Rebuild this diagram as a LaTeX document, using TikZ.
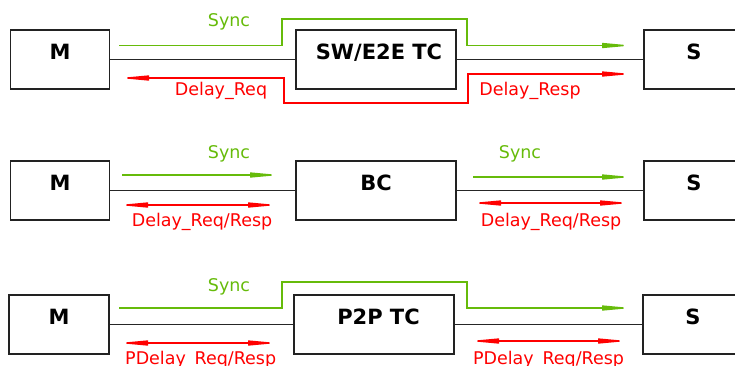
\documentclass[tikz,border=0pt]{standalone}
\usepackage{fontspec}
\setmainfont{DejaVu Sans}
\usetikzlibrary{arrows.meta}
\definecolor{syncgreen}{RGB}{102,187,10}
\definecolor{delayred}{RGB}{255,0,0}
\definecolor{boxline}{RGB}{34,34,34}
\begin{document}
\begin{tikzpicture}[x=1pt,y=-1pt,
  clockbox/.style={draw=boxline, line width=1.5pt, minimum height=59pt, inner sep=0pt,
    text height=15pt, text depth=15pt, font=\fontsize{21}{24}\selectfont\bfseries},
  wire/.style={draw=black!85, line width=1.5pt},
  syncmsg/.style={draw=syncgreen, line width=1.4pt, -{Triangle[length=30pt,width=5pt]}},
  delaymsg/.style={draw=delayred, line width=1.4pt, {Triangle[length=30pt,width=5pt]}-{Triangle[length=30pt,width=5pt]}},
  synclbl/.style={anchor=base, text=syncgreen, inner sep=0pt, font=\fontsize{17.5}{20}\selectfont},
  delaylbl/.style={anchor=base, text=delayred, inner sep=0pt, font=\fontsize{17.5}{20}\selectfont}]
\useasboundingbox (0,0) rectangle (735,365);

% Row 1: end-to-end transparent clock
\node[clockbox, minimum width=99pt]  (m1)  at (60,59.5)  {M};
\node[clockbox, minimum width=160pt] (tc1) at (376,59.5) {\hspace*{6pt}SW/E2E TC};
\node[clockbox, minimum width=100pt] (s1)  at (694,59.5) {S};
\draw[wire] (m1) -- (tc1);
\draw[wire] (tc1) -- (s1);
\coordinate (g1s) at (119,45.5);
\coordinate (g1e) at (632,45.5);
\draw[syncmsg] (g1s) -- (282,45.5) -- (282,19) -- (467,19) -- (467,45.5) -- (g1e);
\coordinate (r1s) at (119,78);
\coordinate (r1e) at (632,74);
\draw[delaymsg] (r1s) -- (284,78) -- (284,103) -- (468,103) -- (468,74) -- (r1e);
\node[synclbl]  (l1a) at (229,26.7) {Sync};
\node[delaylbl] (l1b) at (221,95) {Delay\_Req};
\node[delaylbl] (l1c) at (530,95) {Delay\_Resp};

% Row 2: boundary clock
\node[clockbox, minimum width=99pt]  (m2) at (60,190.5)  {M};
\node[clockbox, minimum width=160pt] (bc) at (376,190.5) {BC};
\node[clockbox, minimum width=100pt] (s2) at (694,190.5) {S};
\draw[wire] (m2) -- (bc);
\draw[wire] (bc) -- (s2);
\coordinate (g2as) at (122,175);
\coordinate (g2ae) at (280,175);
\coordinate (g2bs) at (473,177);
\coordinate (g2be) at (632,177);
\draw[syncmsg] (g2as) -- (g2ae);
\draw[syncmsg] (g2bs) -- (g2be);
\coordinate (r2as) at (118,205);
\coordinate (r2ae) at (278,205);
\coordinate (r2bs) at (471,203);
\coordinate (r2be) at (630,203);
\draw[delaymsg] (r2as) -- (r2ae);
\draw[delaymsg] (r2bs) -- (r2be);
\node[synclbl]  (l2a) at (229,158.3) {Sync};
\node[synclbl]  (l2b) at (520,158.3) {Sync};
\node[delaylbl] (l2c) at (202,226) {Delay\_Req/Resp};
\node[delaylbl] (l2d) at (551,226) {Delay\_Req/Resp};

% Row 3: peer-to-peer transparent clock
\node[clockbox, minimum width=100pt] (m3)  at (59,324.5)  {M};
\node[clockbox, minimum width=160pt] (p2p) at (374,324.5) {\hspace*{9pt}P2P TC};
\node[clockbox, minimum width=100pt] (s3)  at (693,324.5) {S};
\draw[wire] (m3) -- (p2p);
\draw[wire] (p2p) -- (s3);
\coordinate (g3s) at (119,308);
\coordinate (g3e) at (632,308);
\draw[syncmsg] (g3s) -- (282,308) -- (282,282) -- (467,282) -- (467,308) -- (g3e);
\coordinate (r3as) at (118,343);
\coordinate (r3ae) at (278,343);
\coordinate (r3bs) at (469,341);
\coordinate (r3be) at (628,341);
\draw[delaymsg] (r3as) -- (r3ae);
\draw[delaymsg] (r3bs) -- (r3be);
\node[synclbl]  (l3a) at (229,291.7) {Sync};
\node[delaylbl] (l3b) at (200.7,364) {PDelay\_Req/Resp};
\node[delaylbl] (l3c) at (548.5,364) {PDelay\_Req/Resp};
\end{tikzpicture}
\end{document}
